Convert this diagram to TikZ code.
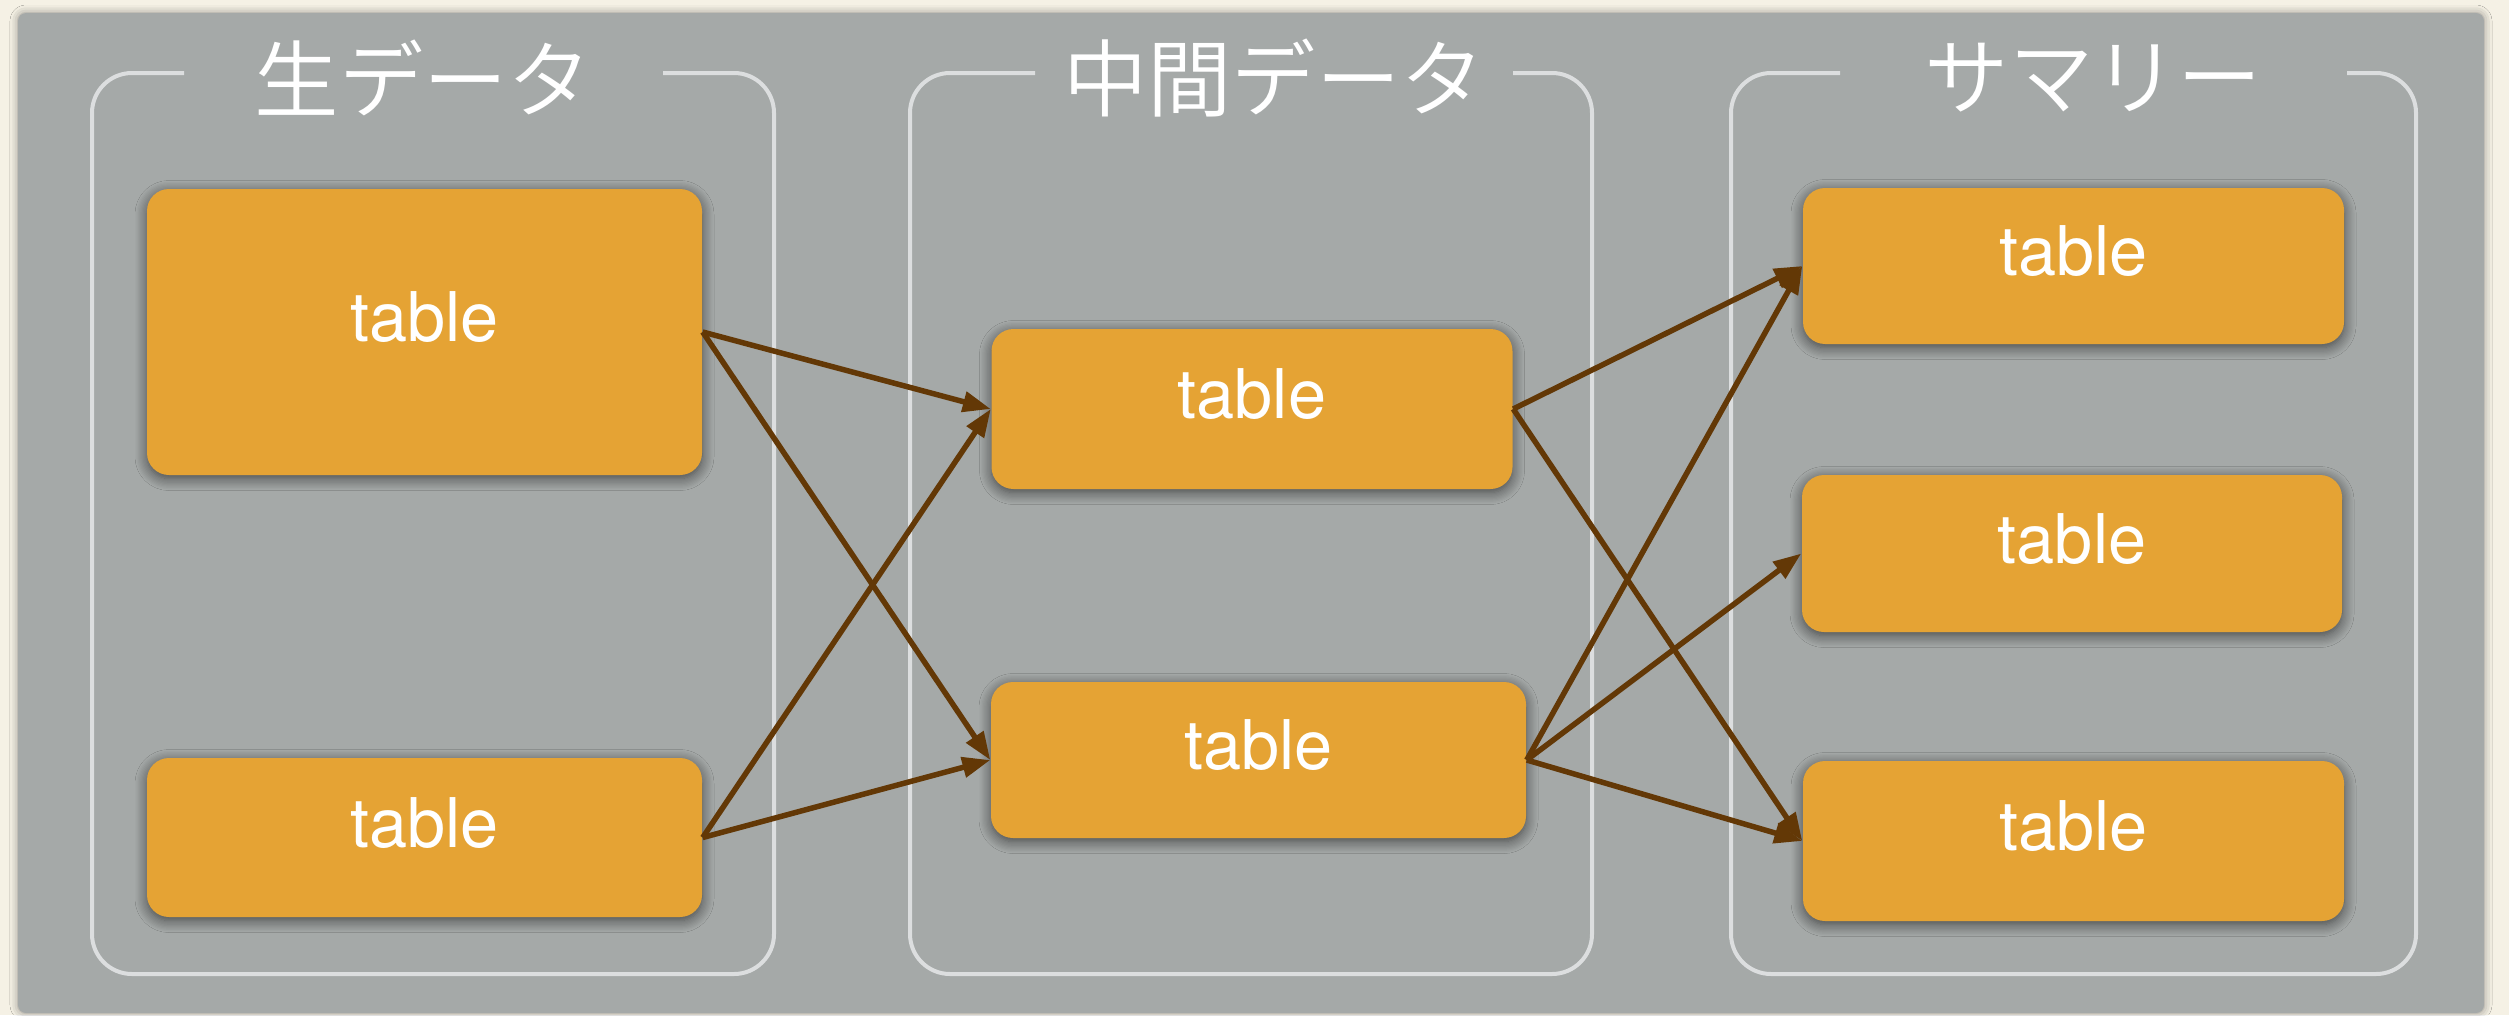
\documentclass[tikz,border=0pt]{standalone}
\usepackage{fontspec}
\setmainfont{TeX Gyre Heros}
\newfontfamily\jpfont{Noto Sans CJK JP DemiLight}
\usetikzlibrary{arrows.meta,shadows.blur}

\definecolor{bgcream}{HTML}{F5F1E5}
\definecolor{panelgray}{HTML}{A5A9A8}
\definecolor{framegray}{HTML}{DCDEDF}
\definecolor{boxorange}{HTML}{E5A334}
\definecolor{arrowbrown}{HTML}{633806}

\tikzset{
  tablebox/.style={rectangle, rounded corners=0.22cm, fill=boxorange, text=white,
    font=\fontsize{19.5}{22}\selectfont, text depth=0.3cm,
    blur shadow={shadow xshift=0pt, shadow yshift=-1pt, shadow blur radius=0.12cm,
      shadow blur steps=10, shadow opacity=60}},
  flowarrow/.style={draw=arrowbrown, line width=0.055cm,
    -{Triangle[length=0.28cm,width=0.2cm]}},
  grpframe/.style={draw=framegray, line width=0.04cm, rounded corners=0.4cm},
  grptitle/.style={text=white, font=\jpfont\fontsize{24}{26}\selectfont}
}

\begin{document}
\begin{tikzpicture}
                    \useasboundingbox (0,0) rectangle (25.09,10.15);
                    
                    % Drawing background and panel
                    \fill [bgcream] (0,0) rectangle (25.09,10.15);%
                    \fill [panelgray, rounded corners=0.08cm, blur shadow={shadow xshift=0pt, shadow yshift=0pt, shadow blur radius=0.08cm, shadow opacity=40}] (0.18,0.02) rectangle (24.84,10.02);%
                    
                    % Drawing group raw
                    \draw [grpframe] (1.84,9.42) -- (0.92,9.42) -- (0.92,0.41) -- (7.74,0.41) -- (7.74,9.42) -- (6.63,9.42);%
                    \node [grptitle] (ttlraw) at (4.235,9.37) {生データ};%
                    
                    % Drawing group mid
                    \draw [grpframe] (10.35,9.42) -- (9.10,9.42) -- (9.10,0.41) -- (15.92,0.41) -- (15.92,9.42) -- (15.13,9.42);%
                    \node [grptitle] (ttlmid) at (12.74,9.37) {中間データ};%
                    
                    % Drawing group summary
                    \draw [grpframe] (18.40,9.42) -- (17.31,9.42) -- (17.31,0.41) -- (24.16,0.41) -- (24.16,9.42) -- (23.47,9.42);%
                    \node [grptitle] (ttlsum) at (20.935,9.37) {サマリー};%
                    
                    % Placing raw tables
                    \node [tablebox, minimum width=5.55cm, minimum height=2.86cm] (raw1) at (4.245,6.83) {table};%
                    \node [tablebox, minimum width=5.55cm, minimum height=1.59cm] (raw2) at (4.245,1.775) {table};%
                    
                    % Placing mid tables
                    \node [tablebox, minimum width=5.21cm, minimum height=1.60cm] (mid1) at (12.52,6.06) {table};%
                    \node [tablebox, minimum width=5.35cm, minimum height=1.56cm] (mid2) at (12.585,2.55) {table};%
                    
                    % Placing summary tables
                    \node [tablebox, minimum width=5.41cm, minimum height=1.56cm] (sum1) at (20.735,7.49) {table};%
                    \node [tablebox, minimum width=5.40cm, minimum height=1.57cm] (sum2) at (20.72,4.615) {table};%
                    \node [tablebox, minimum width=5.41cm, minimum height=1.60cm] (sum3) at (20.735,1.74) {table};%
                    
                    % Drawing arrows raw -> mid
                    \draw [flowarrow] (raw1.east) -- (mid1.west);%
                    \draw [flowarrow] (raw1.east) -- (mid2.west);%
                    \draw [flowarrow] (raw2.east) -- (mid1.west);%
                    \draw [flowarrow] (raw2.east) -- (mid2.west);%
                    
                    % Drawing arrows mid -> summary
                    \draw [flowarrow] (mid1.east) -- (sum1.west);%
                    \draw [flowarrow] (mid1.east) -- (sum3.west);%
                    \draw [flowarrow] (mid2.east) -- (sum1.west);%
                    \draw [flowarrow] (mid2.east) -- (sum2.west);%
                    \draw [flowarrow] (mid2.east) -- (sum3.west);%
\end{tikzpicture}
\end{document}
